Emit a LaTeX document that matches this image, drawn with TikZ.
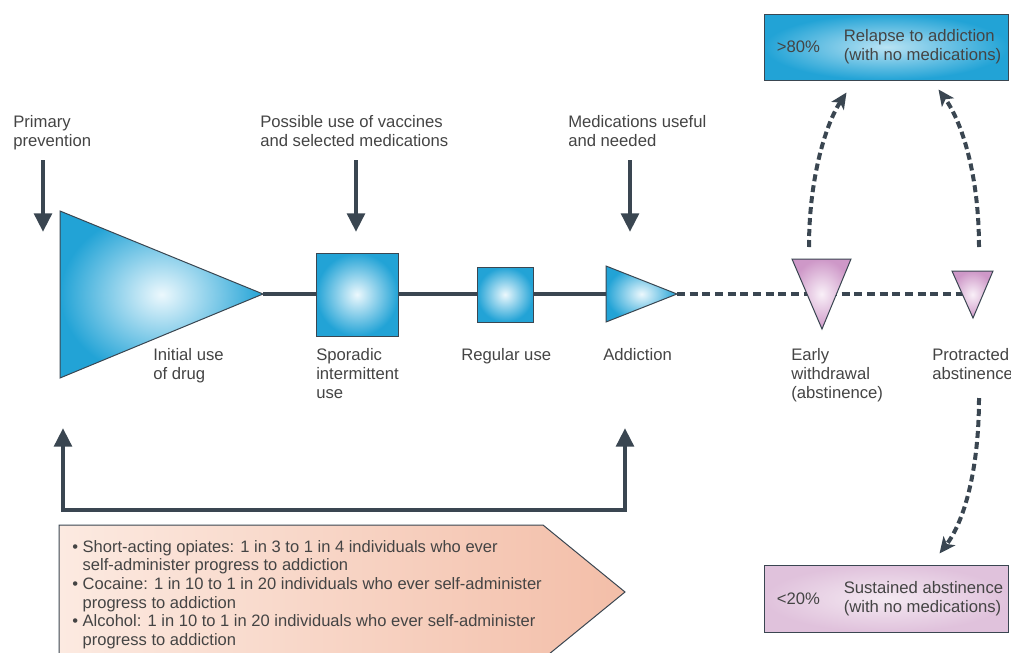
\documentclass[tikz,border=0pt]{standalone}
\usepackage{fontspec}
\setmainfont{Liberation Sans}
\usetikzlibrary{arrows.meta, positioning, calc}

\definecolor{ink}{RGB}{58,70,81}
\definecolor{txt}{RGB}{68,68,68}
\definecolor{cyanout}{RGB}{34,163,214}
\definecolor{cyanin}{RGB}{236,248,253}
\definecolor{pinkout}{RGB}{206,152,200}
\definecolor{pinkin}{RGB}{249,240,248}
\definecolor{lilacout}{RGB}{224,194,220}
\definecolor{lilacin}{RGB}{244,233,242}
\definecolor{peachL}{RGB}{252,234,225}
\definecolor{peachR}{RGB}{243,190,168}

\begin{document}
\begin{tikzpicture}[x=0.75pt, y=-0.75pt, % 1 unit = 1 px of the 1011 x 653 frame
    lbl/.style={font=\fontsize{12.5}{14.3}\selectfont, text=txt, align=left, inner sep=0pt, anchor=north west},
    small/.style={font=\fontsize{12.4}{13.95}\selectfont, text=txt, align=left, inner sep=0pt, anchor=north west},
    blueshade/.style={draw=ink, line width=0.75pt, inner color=cyanin, outer color=cyanout},
    pinkshade/.style={draw=ink, line width=0.75pt, inner color=pinkin, outer color=pinkout},
    stage/.style={blueshade, rectangle, inner sep=0pt},
    mainline/.style={draw=ink, line width=3.6pt},
    dashline/.style={draw=ink, line width=3.6pt, dash pattern=on 6pt off 3.5pt},
    downarrow/.style={draw=ink, line width=3.4pt, -{Triangle[width=13pt, length=14pt]}},
    bracket/.style={draw=ink, line width=3.4pt, {Triangle[width=13pt, length=14pt]}-{Triangle[width=13pt, length=14pt]}},
    curvearrow/.style={draw=ink, line width=3pt, dash pattern=on 5.25pt off 3pt, -{Stealth[width=11pt, length=12pt, inset=3pt]}}]

    \useasboundingbox (0,0) rectangle (1011,653); % same frame as the reference

    % key points of the triangles
    \coordinate (initA)  at (263,294); % apex, initial use
    \coordinate (addB)   at (606,294); % base, addiction
    \coordinate (addA)   at (677,294); % apex, addiction
    \coordinate (protC)  at (973,294); % centre, protracted abstinence

    % lines behind the stages
    \draw [mainline] (initA) -- (addB);
    \draw [dashline] (addA) -- (protC);

    % stages
    \path [blueshade] (60,211) -- (initA) -- (60,378) -- cycle;
    \node [stage, minimum width=61.5pt, minimum height=62.25pt] (sporadic) at (357,294.5) {};
    \node [stage, minimum width=42pt, minimum height=41.25pt] (regular) at (505,294.5) {};
    \path [blueshade] (addB) -- (606,266) -- (addA) -- (606,322) -- cycle;
    \path [pinkshade] (792,259) -- (851,259) -- (822,329) -- cycle;
    \path [pinkshade] (952,271) -- (993,271) -- (973,318) -- cycle;

    % stage labels
    \node [lbl] (initial)  at (153,348) {Initial use\\of drug};
    \node [lbl] (sporlbl)  at (316,348) {Sporadic\\intermittent\\use};
    \node [lbl] (reglbl)   at (461,348) {Regular use};
    \node [lbl] (addlbl)   at (603,348) {Addiction};
    \node [lbl] (early)    at (791,348) {Early\\withdrawal\\(abstinence)};
    \node [lbl] (protract) at (932,348) {Protracted\\abstinence};

    % interventions from above
    \node [lbl] (primary)  at (13,115)  {Primary\\prevention};
    \node [lbl] (vaccines) at (260,115) {Possible use of vaccines\\and selected medications};
    \node [lbl] (meds)     at (568,115) {Medications useful\\and needed};
    \foreach \x/\n in {43/a, 356/b, 630/c} {
        \coordinate (top\n) at (\x,160);
        \coordinate (tip\n) at (\x,232);
        \draw [downarrow] (top\n) -- (tip\n);
    }

    % outcomes
    \node [draw=ink, line width=0.75pt, inner color=cyanin!75!cyanout, outer color=cyanout,
           minimum width=183pt, minimum height=49.5pt] (relapse) at (886,47) {};
    \node [lbl, anchor=west, right=9.75pt of relapse.west] (r80) {>80\%};
    \node [lbl, anchor=west, right=60pt of relapse.west] (rtxt) {Relapse to addiction\\(with no medications)};
    \node [draw=ink, line width=0.75pt, inner color=lilacin, outer color=lilacout,
           minimum width=183pt, minimum height=50.25pt] (sustain) at (886,598.5) {};
    \node [lbl, anchor=west, right=9.75pt of sustain.west] (s20) {<20\%};
    \node [lbl, anchor=west, right=60pt of sustain.west] (stxt) {Sustained abstinence\\(with no medications)};

    \coordinate (ewUp)  at (809,247);
    \coordinate (paUp)  at (979,247);
    \coordinate (paDn)  at (979,398);
    \draw [curvearrow] (ewUp) .. controls (809,175) and (827,122) .. ($(relapse.south west)+(83,12)$);
    \draw [curvearrow] (paUp) .. controls (979,175) and (962,122) .. ($(relapse.south west)+(175,9)$);
    \draw [curvearrow] (paDn) .. controls (979,470) and (964,522) .. ($(sustain.north west)+(176,-11)$);

    % probability of progression
    \coordinate (upL) at (63,428);
    \coordinate (upR) at (625,428);
    \draw [bracket] (upL) -- (63,510) -- (625,510) -- (upR);
    \path [draw=ink, line width=0.75pt, left color=peachL, right color=peachR]
        (59,662) -- (59,525) -- (543,525) -- (625,592) -- (543,659) -- (543,662) -- cycle;
    \node [small] (odds) at (72,540) {%
        \textbullet\ Short-acting opiates: 1 in 3 to 1 in 4 individuals who ever\\
        \phantom{\textbullet\ }self-administer progress to addiction\\
        \textbullet\ Cocaine: 1 in 10 to 1 in 20 individuals who ever self-administer\\
        \phantom{\textbullet\ }progress to addiction\\
        \textbullet\ Alcohol: 1 in 10 to 1 in 20 individuals who ever self-administer\\
        \phantom{\textbullet\ }progress to addiction};

\end{tikzpicture}
\end{document}
